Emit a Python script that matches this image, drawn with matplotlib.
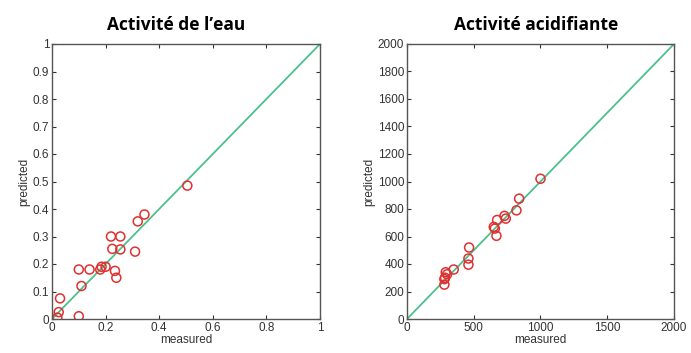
import matplotlib
matplotlib.use("Agg")
import matplotlib.pyplot as plt
import numpy as np

# Activité de l'eau
aw_measured = [0.505, 0.345, 0.32, 0.22, 0.255, 0.225, 0.255, 0.31, 0.10, 0.14, 0.18,
               0.185, 0.20, 0.235, 0.24, 0.11, 0.03, 0.025, 0.02, 0.10]
aw_predicted = [0.485, 0.38, 0.355, 0.30, 0.30, 0.255, 0.253, 0.245, 0.18, 0.18, 0.18,
                0.19, 0.19, 0.175, 0.15, 0.12, 0.075, 0.025, 0.005, 0.01]

# Activité acidifiante
ac_measured = [1000, 840, 820, 730, 740, 675, 650, 658, 670, 465, 460, 460, 350, 290,
               300, 280, 280, 285]
ac_predicted = [1020, 875, 790, 750, 730, 720, 670, 658, 605, 520, 440, 395, 360, 340,
                325, 290, 250, 300]

titles = ["Activité de l\u2019eau", "Activité acidifiante"]
aw_ticks = [0, 0.1, 0.2, 0.3, 0.4, 0.5, 0.6, 0.7, 0.8, 0.9, 1]
aw_xticks = [0, 0.2, 0.4, 0.6, 0.8, 1]
ac_yticks = [0, 200, 400, 600, 800, 1000, 1200, 1400, 1600, 1800, 2000]
ac_xticks = [0, 500, 1000, 1500, 2000]

plt.rcParams['font.family'] = ['Liberation Sans', 'DejaVu Sans']

fig = plt.figure(figsize=(6.91, 3.53), dpi=100)
W, H = 691, 353
ax1 = fig.add_axes([52 / W, 1 - 319 / H, 268 / W, 275 / H])
ax2 = fig.add_axes([407 / W, 1 - 319 / H, 267 / W, 275 / H])

line_col = "#4cc08e"
edge_col = "#555555"

def fmt(v):
    return "%g" % v

for ax, xm, yp, lim, xt, yt, title, tx in [
    (ax1, aw_measured, aw_predicted, 1, aw_xticks, aw_ticks, titles[0], 176.5),
    (ax2, ac_measured, ac_predicted, 2000, ac_xticks, ac_yticks, titles[1], 536),
]:
    ax.plot([0, lim], [0, lim], color=line_col, lw=1.3, zorder=1)
    ax.scatter(xm, yp, s=42, facecolors="none", edgecolors="#e03030", linewidths=1.1, zorder=2)
    ax.set_xlim(0, lim)
    ax.set_ylim(0, lim)
    ax.set_xticks(xt)
    ax.set_yticks(yt)
    ax.set_xticklabels([fmt(v) for v in xt])
    ax.set_yticklabels([fmt(v) for v in yt])
    ax.tick_params(direction="in", top=True, right=True, length=3, width=0.8,
                   labelsize=8.5, colors="#333333", pad=2)
    for sp in ax.spines.values():
        sp.set_color(edge_col)
        sp.set_linewidth(1.0)
    ax.set_xlabel("measured", fontsize=8.5, color="#333333", labelpad=0)
    ax.set_ylabel("predicted", fontsize=8.5, color="#333333", labelpad=2)
    fig.text(tx / W, 1 - 25 / H, title, fontsize=12.5, fontweight="bold",
             family=["Open Sans", "DejaVu Sans"], ha="center", va="center")

fig.savefig("out.png", dpi=100)
